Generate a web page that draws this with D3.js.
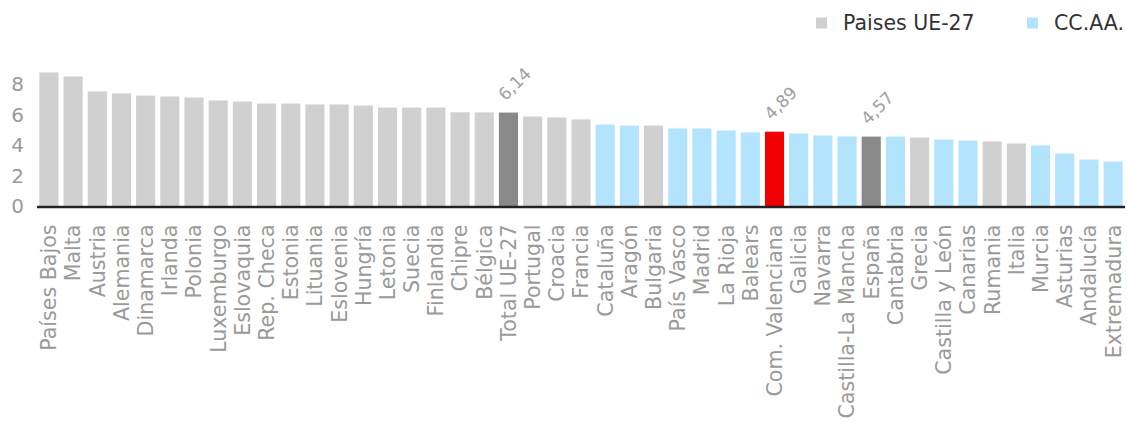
<!DOCTYPE html>
<html>
<head>
<meta charset="utf-8">
<script src="https://cdn.jsdelivr.net/npm/d3@7"></script>
<style>
  html, body { margin: 0; padding: 0; background: #fff; }
  svg { display: block; font-family: "DejaVu Sans", sans-serif; }
</style>
</head>
<body>
<svg id="chart" width="1127" height="426"></svg>
<script>
const categories = ['Países Bajos','Malta','Austria','Alemania','Dinamarca','Irlanda','Polonia','Luxemburgo','Eslovaquia','Rep. Checa','Estonia','Lituania','Eslovenia','Hungría','Letonia','Suecia','Finlandia','Chipre','Bélgica','Total UE-27','Portugal','Croacia','Francia','Cataluña','Aragón','Bulgaria','País Vasco','Madrid','La Rioja','Balears','Com. Valenciana','Galicia','Navarra','Castilla-La Mancha','España','Cantabria','Grecia','Castilla y León','Canarias','Rumania','Italia','Murcia','Asturias','Andalucía','Extremadura'];
const values = [8.76,8.50,7.52,7.39,7.25,7.19,7.12,6.93,6.86,6.73,6.73,6.67,6.67,6.60,6.47,6.47,6.47,6.16,6.15,6.14,5.88,5.82,5.69,5.36,5.29,5.29,5.10,5.10,4.97,4.84,4.89,4.77,4.64,4.58,4.57,4.57,4.51,4.38,4.31,4.25,4.12,3.99,3.46,3.07,2.94];
const groups = ['eu','eu','eu','eu','eu','eu','eu','eu','eu','eu','eu','eu','eu','eu','eu','eu','eu','eu','eu','total','eu','eu','eu','cc','cc','eu','cc','cc','cc','cc','cv','cc','cc','cc','total','cc','eu','cc','cc','eu','eu','cc','cc','cc','cc'];
const annotated = ['Total UE-27','Com. Valenciana','España'];
const annotationLabels = ['6,14','4,89','4,57'];
const yTicks = [0,2,4,6,8];
const legendLabels = ['Paises UE-27','CC.AA.'];
const legendGroups = ['eu','cc'];

const colors = { eu: '#d0d0d0', cc: '#b3e3fd', total: '#898989', cv: '#f00000' };

const svg = d3.select('#chart');
const x = d3.scaleBand().domain(categories).range([34.5, 1127.5]).paddingInner(0.21).paddingOuter(0.2);
const y = d3.scaleLinear().domain([0, 9]).range([206.5, 68.8]);

// bars
svg.append('g').selectAll('rect').data(categories).join('rect')
  .attr('x', d => x(d))
  .attr('width', x.bandwidth())
  .attr('y', (d, i) => y(values[i]))
  .attr('height', (d, i) => y(0) - y(values[i]))
  .attr('fill', (d, i) => colors[groups[i]]);

// baseline
svg.append('line')
  .attr('x1', 37).attr('x2', 1125)
  .attr('y1', y(0) + 0.5).attr('y2', y(0) + 0.5)
  .attr('stroke', '#222').attr('stroke-width', 2.5);

// y axis
const yAxis = d3.axisLeft(y).tickValues(yTicks).tickSize(0).tickPadding(0).tickFormat(d3.format('d'));
const gy = svg.append('g').attr('transform', 'translate(24,0)').call(yAxis);
gy.select('.domain').remove();
gy.selectAll('text').attr('fill', '#9a9a9a').style('font-size', '20px').style('font-family', '"DejaVu Sans", sans-serif');

// x axis labels
const xAxis = d3.axisBottom(x).tickSize(0).tickPadding(0);
const gx = svg.append('g').attr('transform', `translate(0,${y(0)})`).call(xAxis);
gx.select('.domain').remove();
gx.selectAll('text')
  .attr('fill', '#9a9a9a')
  .style('font-size', '20.6px')
  .style('font-family', '"DejaVu Sans", sans-serif')
  .attr('text-anchor', 'end')
  .attr('dy', '0.36em')
  .attr('x', -18)
  .attr('y', 0)
  .attr('transform', 'rotate(-90)');

// annotations
svg.append('g').selectAll('text').data(annotated).join('text')
  .attr('transform', (d, i) => {
    const idx = categories.indexOf(d);
    const cx = x(d) + x.bandwidth() / 2 - 3;
    const cy = y(values[idx]) - 11;
    return `translate(${cx},${cy}) rotate(-45)`;
  })
  .attr('fill', '#a0a0a0')
  .style('font-size', '17px')
  .text((d, i) => annotationLabels[i]);

// legend
const legendX = [816, 1027];
const lg = svg.append('g');
legendLabels.forEach((lab, i) => {
  lg.append('rect').attr('x', legendX[i]).attr('y', 17.5).attr('width', 11).attr('height', 11).attr('fill', colors[legendGroups[i]]);
  lg.append('text').attr('x', legendX[i] + 27).attr('y', 29.5)
    .attr('fill', '#333').style('font-size', '20.5px').text(lab);
});
</script>
</body>
</html>
